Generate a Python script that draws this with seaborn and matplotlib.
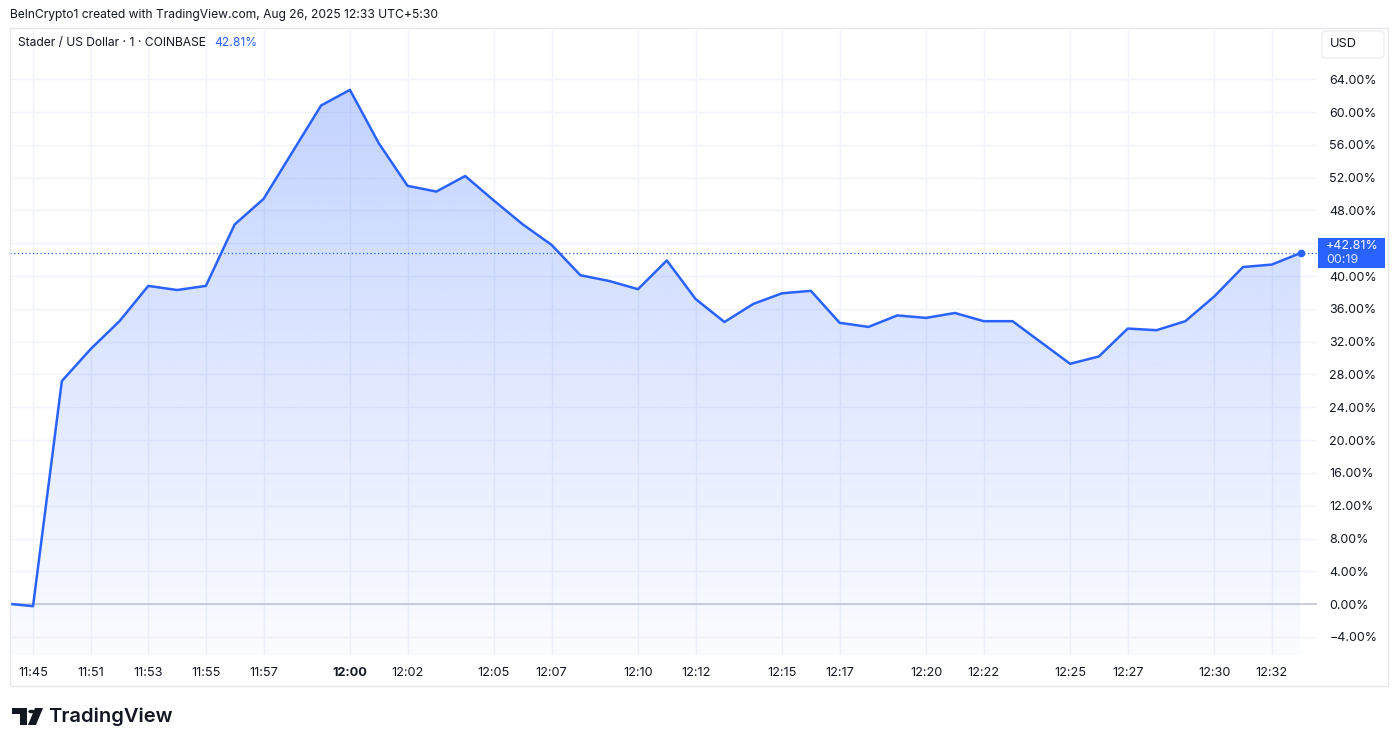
import numpy as np
import pandas as pd
import matplotlib
matplotlib.use("Agg")
import matplotlib.pyplot as plt
import seaborn as sns
from matplotlib.patches import Polygon, Circle, Rectangle, FancyBboxPatch
from matplotlib.colors import LinearSegmentedColormap

# Dados (variação % do Stader, velas de 1 minuto)
times = ["11:44", "11:45", "11:50", "11:51", "11:52", "11:53", "11:54", "11:55",
         "11:56", "11:57", "11:58", "11:59", "12:00", "12:01", "12:02", "12:03",
         "12:04", "12:05", "12:06", "12:07", "12:08", "12:09", "12:10", "12:11",
         "12:12", "12:13", "12:14", "12:15", "12:16", "12:17", "12:18", "12:19",
         "12:20", "12:21", "12:22", "12:23", "12:24", "12:25", "12:26", "12:27",
         "12:28", "12:29", "12:30", "12:31", "12:32", "12:33"]
change_pct = [0.1, -0.25, 27.2, 31.1, 34.5, 38.8, 38.3, 38.8, 46.3, 49.4, 55.1, 60.8,
              62.7, 56.2, 51.0, 50.3, 52.2, 49.2, 46.3, 43.8, 40.1, 39.4, 38.4, 41.9,
              37.2, 34.4, 36.6, 37.9, 38.2, 34.3, 33.8, 35.2, 34.9, 35.5, 34.5, 34.5,
              31.9, 29.3, 30.2, 33.6, 33.4, 34.5, 37.5, 41.1, 41.4, 42.81]
tick_times = ["11:45", "11:51", "11:53", "11:55", "11:57", "12:00", "12:02", "12:05",
              "12:07", "12:10", "12:12", "12:15", "12:17", "12:20", "12:22", "12:25",
              "12:27", "12:30", "12:32"]
y_ticks = [-4, 0, 4, 8, 12, 16, 20, 24, 28, 32, 36, 40, 44, 48, 52, 56, 60, 64]

BLUE = "#2962FF"
TXT = "#131722"
GRID = "#f0f3fa"

df = pd.DataFrame({"idx": np.arange(len(times)), "time": times, "pct": change_pct})

sns.set_style("white")
plt.rcParams["font.family"] = ["Inter", "DejaVu Sans"]

W, H = 1400, 747
fig = plt.figure(figsize=(14, 7.47), dpi=100)
ax = fig.add_axes([10 / W, 1 - 655 / H, (1317 - 10) / W, (655 - 30) / H])

x0, x1 = 0.2, 45.57
y0, y1 = -6.2, 70.0
ax.set_xlim(x0, x1)
ax.set_ylim(y0, y1)

# grade
for v in y_ticks:
    ax.axhline(v, color=GRID, lw=1, zorder=0)
tick_idx = [times.index(t) for t in tick_times]
for i in tick_idx:
    ax.axvline(i, color=GRID, lw=1, zorder=0)
ax.axhline(0, color="#c9ccd3", lw=1.3, zorder=1)

# preenchimento em degradê
cmap = LinearSegmentedColormap.from_list(
    "fade", [(41 / 255, 98 / 255, 1, 0.02), (41 / 255, 98 / 255, 1, 0.28)])
grad = np.linspace(0, 1, 256).reshape(-1, 1)
img = ax.imshow(grad, cmap=cmap, origin="lower", aspect="auto",
                extent=[x0, x1, y0, max(change_pct)], zorder=1)
poly = ax.fill_between(df["idx"], df["pct"], y0, color="none", lw=0)
path = poly.get_paths()[0]
img.set_clip_path(path, transform=ax.transData)

sns.lineplot(data=df, x="idx", y="pct", color=BLUE, lw=1.8, ax=ax, zorder=3)

last = change_pct[-1]
ax.axhline(last, color=BLUE, lw=0.9, ls=(0, (1, 2)), zorder=2)
ax.plot(df["idx"].iloc[-1], last, "o", color=BLUE, ms=4.5, zorder=4)

# eixos
ax.set_xlabel("")
ax.set_ylabel("")
ax.set_xticks(tick_idx)
ax.set_xticklabels(tick_times, fontsize=9.2, color=TXT)
for lab in ax.get_xticklabels():
    if lab.get_text() == "12:00":
        lab.set_fontweight("bold")
ax.yaxis.tick_right()
ax.set_yticks(y_ticks)
ax.set_yticklabels([("\u2212" if v < 0 else "") + f"{abs(v):.2f}%" for v in y_ticks],
                   fontsize=9.0, color=TXT)
ax.tick_params(axis="both", length=0)
ax.tick_params(axis="y", pad=9)
ax.tick_params(axis="x", pad=9)
for s in ax.spines.values():
    s.set_visible(False)

# etiqueta de preço (na escala à direita)
y_lab = ax.transData.transform((0, last))[1]
fig.add_artist(Rectangle((1318 / W, (y_lab - 15) / H), 67 / W, 30 / H,
                         transform=fig.transFigure, fc=BLUE, ec="none", zorder=5))
fig.text(1326 / W, (y_lab + 7) / H, "+42.81%", fontsize=9.0, color="white",
         va="center", zorder=6)
fig.text(1326 / W, (y_lab - 7) / H, "00:19", fontsize=9.0, color="#dfe6ff",
         va="center", zorder=6)

# moldura
fig.add_artist(Rectangle((10 / W, 1 - 686 / H), (1388 - 10) / W, (686 - 28) / H,
                         transform=fig.transFigure, fill=False, ec="#e6e8ee", lw=1))
fig.add_artist(FancyBboxPatch((1322 / W, 1 - 58 / H), 62 / W, 27 / H,
                              boxstyle="round,pad=0,rounding_size=0.004",
                              transform=fig.transFigure, fill=False, ec="#eceef2", lw=1))
fig.text(1330 / W, 1 - 44 / H, "USD", fontsize=9.2, color=TXT, va="center")

# textos do topo
fig.text(10 / W, 1 - 15 / H, "BeInCrypto1 created with TradingView.com, Aug 26, 2025 12:33 UTC+5:30",
         fontsize=8.7, color=TXT, va="center")
t1 = fig.text(18 / W, 1 - 43 / H, "Stader / US Dollar \u00b7 1 \u00b7 COINBASE",
              fontsize=8.7, color=TXT, va="center")
fig.canvas.draw()
bb = t1.get_window_extent()
fig.text((bb.x1 + 8) / W, 1 - 43 / H, "42.81%", fontsize=8.7, color=BLUE, va="center")

# logo TradingView
def fp(pts):
    return [(x / W, 1 - y / H) for x, y in pts]

fig.add_artist(Polygon(fp([(12, 708), (27, 708), (27, 725), (20, 725), (20, 714), (12, 714)]),
                       closed=True, transform=fig.transFigure, fc=TXT, ec="none"))
fig.add_artist(Circle((31.5 / W, 1 - 711.5 / H), 3.3 / W, transform=fig.transFigure,
                      fc=TXT, ec="none"))
fig.add_artist(Polygon(fp([(35, 708), (43, 708), (36, 725), (28, 725)]),
                       closed=True, transform=fig.transFigure, fc=TXT, ec="none"))
fig.text(48 / W, 1 - 717 / H, "TradingView", fontsize=14.5, fontweight="semibold",
         color=TXT, va="center")

fig.savefig("out.png", dpi=100)
